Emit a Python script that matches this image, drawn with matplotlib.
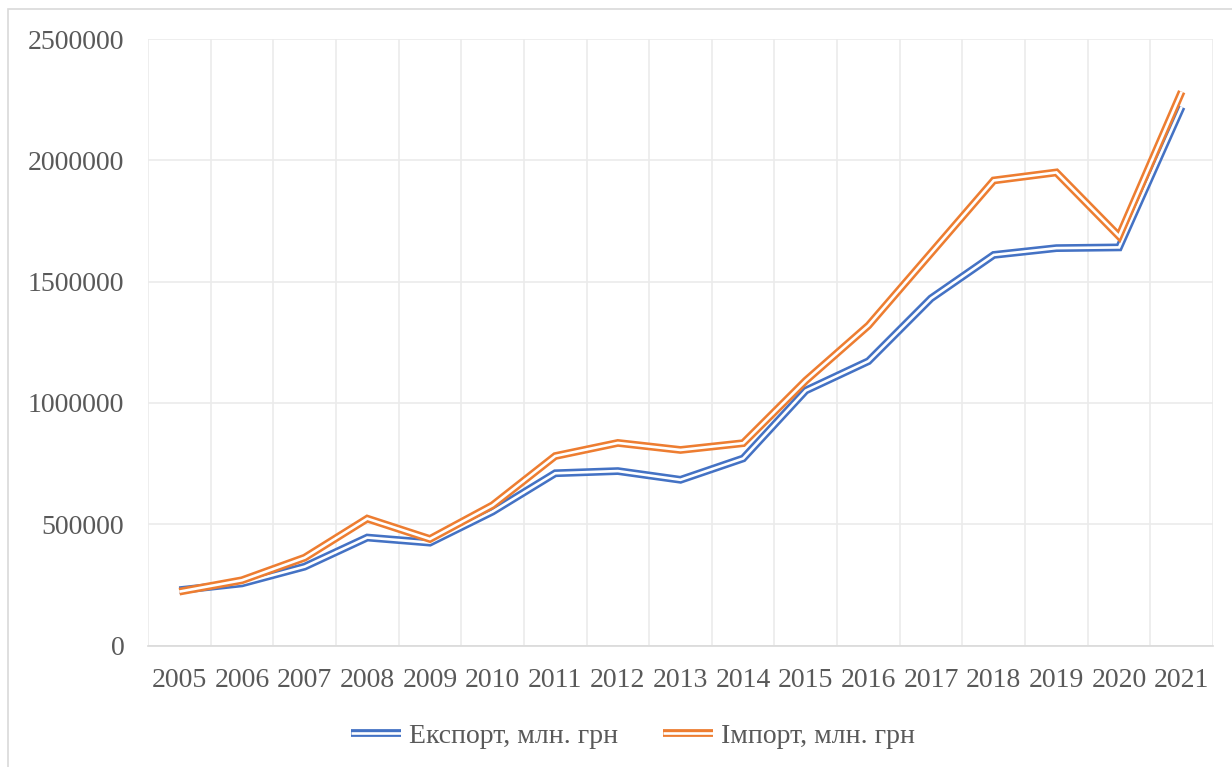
import matplotlib
matplotlib.use("Agg")
import matplotlib.pyplot as plt
import matplotlib.patheffects as pe
from matplotlib.patches import Rectangle
import numpy as np

years = ["2005", "2006", "2007", "2008", "2009", "2010", "2011", "2012", "2013",
         "2014", "2015", "2016", "2017", "2018", "2019", "2020", "2021"]
export_vals = [228000, 256000, 325000, 445000, 424000, 552000, 710000, 719000, 683000,
               771000, 1051000, 1172000, 1431000, 1610000, 1638000, 1641000, 2220000]
import_vals = [222000, 269000, 362000, 523000, 439000, 578000, 781000, 835000, 806000,
               834000, 1092000, 1319000, 1618000, 1917000, 1950000, 1687000, 2283000]
series_names = ["Експорт, млн. грн", "Імпорт, млн. грн"]
colors = ["#4472c4", "#ed7d31"]
yticks = [0, 500000, 1000000, 1500000, 2000000, 2500000]

text_color = "#595959"
plt.rcParams["font.family"] = ["Liberation Serif", "DejaVu Serif"]

fig = plt.figure(figsize=(12.32, 7.67), dpi=100)
ax = fig.add_axes([148 / 1232, 1 - 645.5 / 767, (1213 - 148) / 1232, (645.5 - 39) / 767])

# chart-area frame (left/top visible in the reference)
fig.patches.append(Rectangle((8 / 1232, -0.05), 1.2, 1 - 9 / 767 + 0.05,
                             transform=fig.transFigure, fill=False,
                             edgecolor="#d9d9d9", lw=1.2))

x = np.arange(len(years))
for vals, name, col in zip([export_vals, import_vals], series_names, colors):
    ax.plot(x, vals, color="white", lw=1.9, label=name,
            solid_joinstyle="miter", solid_capstyle="butt",
            path_effects=[pe.Stroke(linewidth=5.6, foreground=col), pe.Normal()])

ax.set_xlim(-0.5, len(years) - 0.5)
ax.set_ylim(0, 2500000)
ax.set_xticks(x)
ax.set_xticklabels(years)
ax.set_xticks(np.arange(len(years) + 1) - 0.5, minor=True)
ax.set_yticks(yticks)
ax.set_yticklabels([str(v) for v in yticks])

ax.grid(True, which="minor", axis="x", color="#ebebeb", lw=1.2)
ax.grid(True, which="major", axis="y", color="#ebebeb", lw=1.2)
ax.set_axisbelow(True)
for s in ["top", "right", "left"]:
    ax.spines[s].set_visible(False)
ax.spines["bottom"].set_color("#d9d9d9")
ax.spines["bottom"].set_linewidth(1.2)

ax.tick_params(axis="both", which="both", length=0, labelsize=20, labelcolor=text_color)
ax.tick_params(axis="x", pad=16)
ax.tick_params(axis="y", pad=17)

fig.legend(loc="center", bbox_to_anchor=(633 / 1232, 1 - 736 / 767), ncol=2,
           frameon=False, fontsize=20, labelcolor=text_color, handlelength=1.8,
           handletextpad=0.3, columnspacing=1.6)

fig.savefig("out.png", dpi=100)
